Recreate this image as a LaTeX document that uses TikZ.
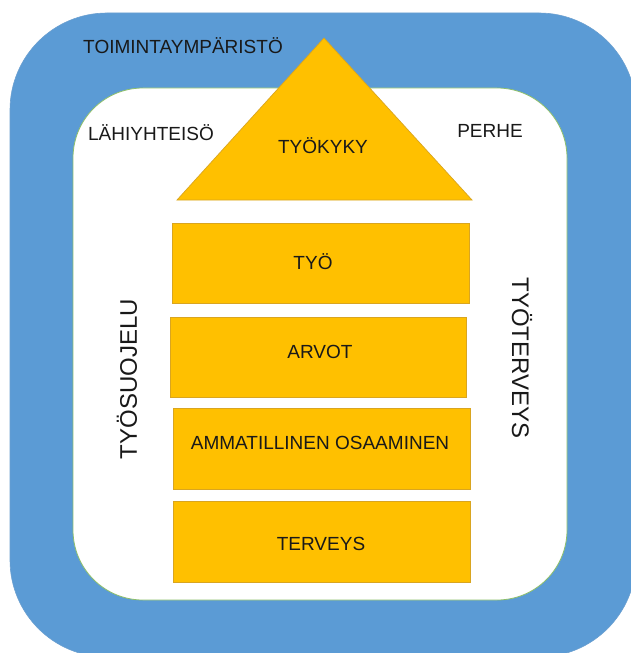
\documentclass[tikz,border=0pt]{standalone}
\usepackage{fontspec}
\setmainfont{Liberation Sans}
\definecolor{ringblue}{HTML}{5B9BD5}
\definecolor{ringedge}{HTML}{6A9FD0}
\definecolor{gold}{HTML}{FFC000}
\definecolor{goldedge}{HTML}{D9A520}
\definecolor{innerline}{HTML}{8DBF6A}
\begin{document}
\begin{tikzpicture}[x=1bp,y=-1bp,
  ring/.style={fill=ringblue,draw=ringedge,line width=0.6bp,rounded corners=97bp},
  inner/.style={fill=white,draw=innerline,line width=0.8bp,rounded corners=70bp},
  brick/.style={fill=gold,draw=goldedge,line width=0.7bp,inner sep=0pt},
  roof/.style={fill=gold,draw=goldedge,line width=0.7bp},
  lbl/.style={font=\fontsize{19bp}{23bp}\selectfont,text=black!90,inner sep=0pt},
  biglbl/.style={font=\fontsize{24bp}{28bp}\selectfont,text=black!90,inner sep=0pt}]
\useasboundingbox (0,0) rectangle (631,653);
\draw[ring] (10,13) rectangle (636,657);
\draw[inner] (73,88) rectangle (567,600);
% roof
\coordinate (rl) at (177,200);
\coordinate (rt) at (324,38);
\coordinate (rr) at (472,200);
\draw[roof] (rl) -- (rt) -- (rr) -- cycle;
% bricks
\node[brick,minimum width=297bp,minimum height=80bp] (b1) at (320.5,263) {};
\node[brick,minimum width=296bp,minimum height=80bp] (b2) at (318,357) {};
\node[brick,minimum width=297bp,minimum height=81bp] (b3) at (321.5,448.5) {};
\node[brick,minimum width=297bp,minimum height=81bp] (b4) at (321.5,541.5) {};
% labels
\node[lbl] (t0) at (183,46) {TOIMINTAYMPÄRISTÖ};
\node[lbl] (t1) at (151,133) {LÄHIYHTEISÖ};
\node[lbl] (t2) at (490,131) {PERHE};
\node[lbl] (t3) at (323,146) {TYÖKYKY};
\node[lbl] (t4) at (313,262) {TYÖ};
\node[lbl] (t5) at (320,352) {ARVOT};
\node[lbl] (t6) at (320,443) {AMMATILLINEN OSAAMINEN};
\node[lbl] (t7) at (321,544) {TERVEYS};
\node[biglbl,rotate=90] (t8) at (127,379) {TYÖSUOJELU};
\node[biglbl,rotate=-90] (t9) at (522,358) {TYÖTERVEYS};
\end{tikzpicture}
\end{document}
